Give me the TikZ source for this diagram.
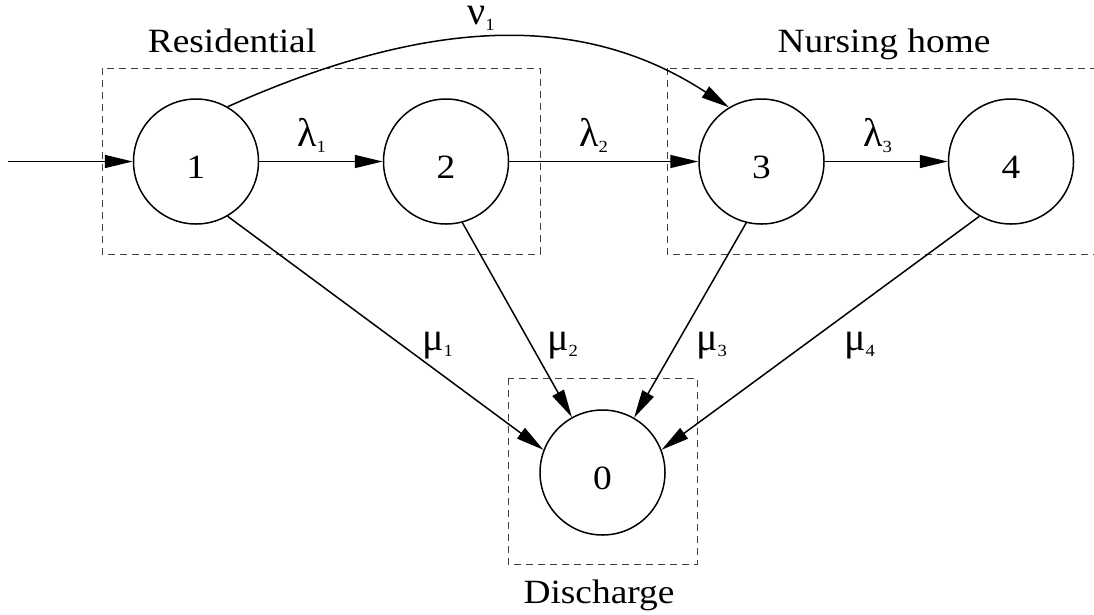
\documentclass[tikz,border=0pt]{standalone}
\usepackage{fontspec}
\setmainfont{Liberation Serif}[FakeStretch=1.1]
\newfontfamily\gkfont{Liberation Serif}
\usetikzlibrary{arrows.meta}
\newcommand\glab[2]{{\gkfont\fontsize{40}{40}\selectfont #1}\raisebox{-6pt}{\fontsize{17}{17}\selectfont #2}}
\tikzset{
  st/.style={circle, draw, line width=1.5pt, minimum size=125pt, inner sep=0pt,
    font=\fontsize{34}{34}\selectfont, text height=34pt, text depth=0pt},
  arr/.style={line width=1.5pt, -{Triangle[length=28pt,width=13pt]}},
  grp/.style={draw=black!75, line width=1pt, dash pattern=on 7pt off 5pt},
  lab/.style={inner sep=0pt, anchor=base west, text height=20pt},
  gtitle/.style={inner sep=0pt, anchor=base, font=\fontsize{34}{34}\selectfont},
}
\begin{document}
\begin{tikzpicture}[x=1pt,y=-1pt]
\useasboundingbox (0,0) rectangle (1094,614);
\clip (0,0) rectangle (1094,614);
% groups
\draw[grp] (102,68) rectangle (540,254);
\draw[grp] (667,68) rectangle (1110,254);
\draw[grp] (508,378) rectangle (697,564);
\node[gtitle] (tres) at (232,52) {Residential};
\node[gtitle] (tnur) at (884,52) {Nursing home};
\node[gtitle] (tdis) at (599,603) {Discharge};
% states
\node[st] (n1) at (196,161.5) {1};
\node[st] (n2) at (446,161.5) {2};
\node[st] (n3) at (761.5,161.5) {3};
\node[st] (n4) at (1011,161.5) {4};
\node[st] (n0) at (602.5,472.5) {0};
\coordinate (in) at (8,161.5);
% edges
\draw[arr] (in) -- (n1);
\draw[arr] (n1) -- (n2);
\draw[arr] (n2) -- (n3);
\draw[arr] (n3) -- (n4);
\draw[arr] (n1.60) .. controls (435,14) and (586,14) .. (n3.121);
\draw[arr] (n1.-60.6) -- (n0.159);
\draw[arr] (n2.-75.5) -- (n0.119);
\draw[arr] (n3.-104) -- (n0.60);
\draw[arr] (n4.-120) -- (n0.21);
% rate labels
\node[lab, text height=17pt] (lnu) at (467,24) {\glab{ν}{1}};
\node[lab] (ll1) at (297,146) {\glab{λ}{1}};
\node[lab] (ll2) at (579,146) {\glab{λ}{2}};
\node[lab] (ll3) at (863,146) {\glab{λ}{3}};
\node[lab] (lm1) at (422,350) {\glab{μ}{1}};
\node[lab] (lm2) at (547,350) {\glab{μ}{2}};
\node[lab] (lm3) at (696,350) {\glab{μ}{3}};
\node[lab] (lm4) at (844,350) {\glab{μ}{4}};
\end{tikzpicture}
\end{document}
